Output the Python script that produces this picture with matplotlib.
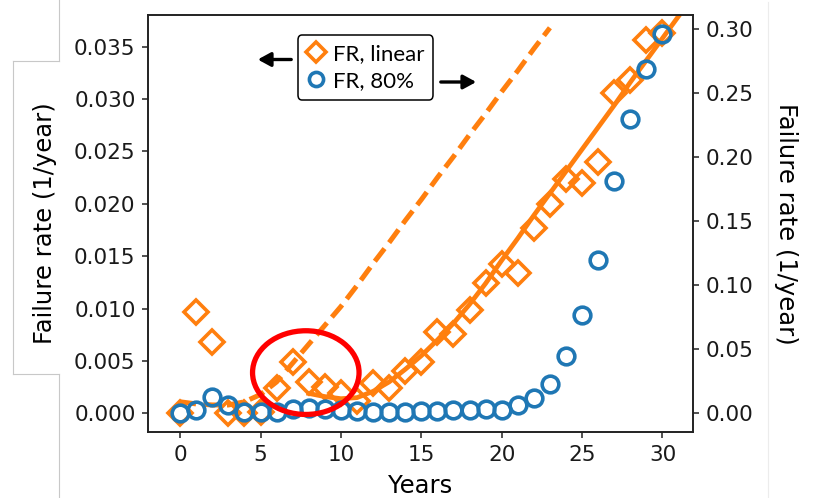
import matplotlib
matplotlib.use("Agg")
import matplotlib.pyplot as plt
from matplotlib.lines import Line2D
from matplotlib.patches import Ellipse, FancyArrowPatch

# ---- data -------------------------------------------------------------
years = list(range(31))
fr_linear = [0.0000, 0.0097, 0.0068, 0.0000, 0.0000, 0.0001, 0.0024, 0.0049, 0.0030, 0.0025,
             0.0019, 0.0012, 0.0029, 0.0024, 0.0040, 0.0049, 0.0078, 0.0076, 0.0099, 0.0124,
             0.0143, 0.0134, 0.0177, 0.0200, 0.0224, 0.0220, 0.0240, 0.0306, 0.0318, 0.0356,
             0.0363]
fr_80 = [0.0000, 0.0020, 0.0127, 0.0062, 0.0005, 0.0005, 0.0010, 0.0030, 0.0040, 0.0035,
         0.0025, 0.0015, 0.0012, 0.0012, 0.0010, 0.0013, 0.0016, 0.0020, 0.0023, 0.0030,
         0.0025, 0.0063, 0.0115, 0.0224, 0.0445, 0.0766, 0.1195, 0.1810, 0.2295, 0.2690,
         0.2960]

# early trend (dashed)
trend_early_x = list(range(0, 24))
trend_early = [0.0011, 0.0009, 0.0008, 0.0008, 0.0011, 0.0018, 0.0030, 0.0048, 0.0066, 0.0084,
               0.0102, 0.0122, 0.0143, 0.0163, 0.0184, 0.0204, 0.0225, 0.0245, 0.0266, 0.0286,
               0.0307, 0.0327, 0.0348, 0.0368]

# late trend (solid)
trend_late_x = list(range(8, 32))
trend_late = [0.0019, 0.0016, 0.0014, 0.0015, 0.0021, 0.0030, 0.0042, 0.0055, 0.0070, 0.0086,
              0.0104, 0.0124, 0.0146, 0.0167, 0.0189, 0.0210, 0.0231, 0.0252, 0.0273, 0.0294,
              0.0316, 0.0337, 0.0358, 0.0379]

left_ticks = [0.000, 0.005, 0.010, 0.015, 0.020, 0.025, 0.030, 0.035]
right_ticks = [0.00, 0.05, 0.10, 0.15, 0.20, 0.25, 0.30]
x_ticks = [0, 5, 10, 15, 20, 25, 30]

ORANGE = "#ff7f0e"
BLUE = "#1f77b4"
W, H = 813, 498

# ---- figure -----------------------------------------------------------
fig = plt.figure(figsize=(W / 100, H / 100), dpi=100)
ax1 = fig.add_axes([148 / W, (H - 432) / H, (693 - 148) / W, (432 - 15) / H])
ax2 = ax1.twinx()

ax1.plot(trend_early_x, trend_early, color=ORANGE, lw=3.6, dashes=(3.2, 1.5),
         solid_capstyle="butt", zorder=2)
ax1.plot(trend_late_x, trend_late, color=ORANGE, lw=3.4, zorder=2)
l1, = ax1.plot(years, fr_linear, ls="none", marker="D", ms=12.5, mew=2.6,
               mfc="none", mec=ORANGE, label="FR, linear", zorder=3)
l2, = ax2.plot(years, fr_80, ls="none", marker="o", ms=12, mew=2.6,
               mfc="none", mec=BLUE, label="FR, 80%", zorder=3)

ax1.set_xlim(-2.0, 31.9)
ax1.set_ylim(-0.00178, 0.03802)
ax2.set_ylim(-0.0148, 0.311)

ax1.set_xticks(x_ticks)
ax1.set_yticks(left_ticks)
ax1.set_yticklabels([f"{v:.3f}" for v in left_ticks])
ax2.set_yticks(right_ticks)
ax2.set_yticklabels([f"{v:.2f}" for v in right_ticks])

for ax in (ax1, ax2):
    for sp in ax.spines.values():
        sp.set_linewidth(1.2)
        sp.set_color("#222222")
    ax.tick_params(labelsize=15.5, length=4, width=1.1, pad=5, colors="#222222",
                   labelcolor="#1a1a1a")

ax1.set_xlabel("Years", fontsize=17.5, labelpad=7)
ax1.set_ylabel("Failure rate (1/year)", fontsize=17.5, labelpad=12)
ax2.set_ylabel("Failure rate (1/year)", fontsize=17.5, rotation=270, labelpad=32)

# legend
leg = ax2.legend(handles=[l1, l2], loc="center",
                 bbox_to_anchor=(365.5 / W, 1 - 67.5 / H),
                 bbox_transform=fig.transFigure,
                 prop={"family": "Lato", "size": 16},
                 markerscale=0.85,
                 handlelength=0.9, handletextpad=0.3, borderpad=0.4,
                 labelspacing=0.3, borderaxespad=0, fancybox=True,
                 framealpha=1, edgecolor="black")
leg.get_frame().set_linewidth(1.1)
leg.set_zorder(10)

# arrows pointing to each series' axis
for (xa, ya), (xb, yb) in [((294, 59.5), (255, 59.5)), ((438, 82), (479, 82))]:
    fig.add_artist(FancyArrowPatch((xa / W, 1 - ya / H), (xb / W, 1 - yb / H),
                                   transform=fig.transFigure,
                                   arrowstyle="-|>,head_length=0.55,head_width=0.3",
                                   mutation_scale=14, lw=2.4, color="black"))

# highlight of the early-life region
fig.add_artist(Ellipse((305.8 / W, 1 - 372.6 / H), 106.5 / W, 83.7 / H,
                       transform=fig.transFigure, fill=False,
                       edgecolor="#ff0000", lw=3.8, zorder=20))

# slide frame lines
def seg(x0, y0, x1, y1, color="#c8c8c8"):
    fig.add_artist(Line2D([x0 / W, x1 / W], [1 - y0 / H, 1 - y1 / H],
                          transform=fig.transFigure, color=color, lw=0.8))

seg(59.3, 0, 59.3, 61)
seg(59.3, 374, 59.3, H)
seg(12.7, 61, 59.3, 61)
seg(12.7, 374, 59.3, 374)
seg(12.7, 61, 12.7, 374)
seg(768.3, 2, 768.3, H, color="#ececec")

fig.savefig("out.png", dpi=100)
